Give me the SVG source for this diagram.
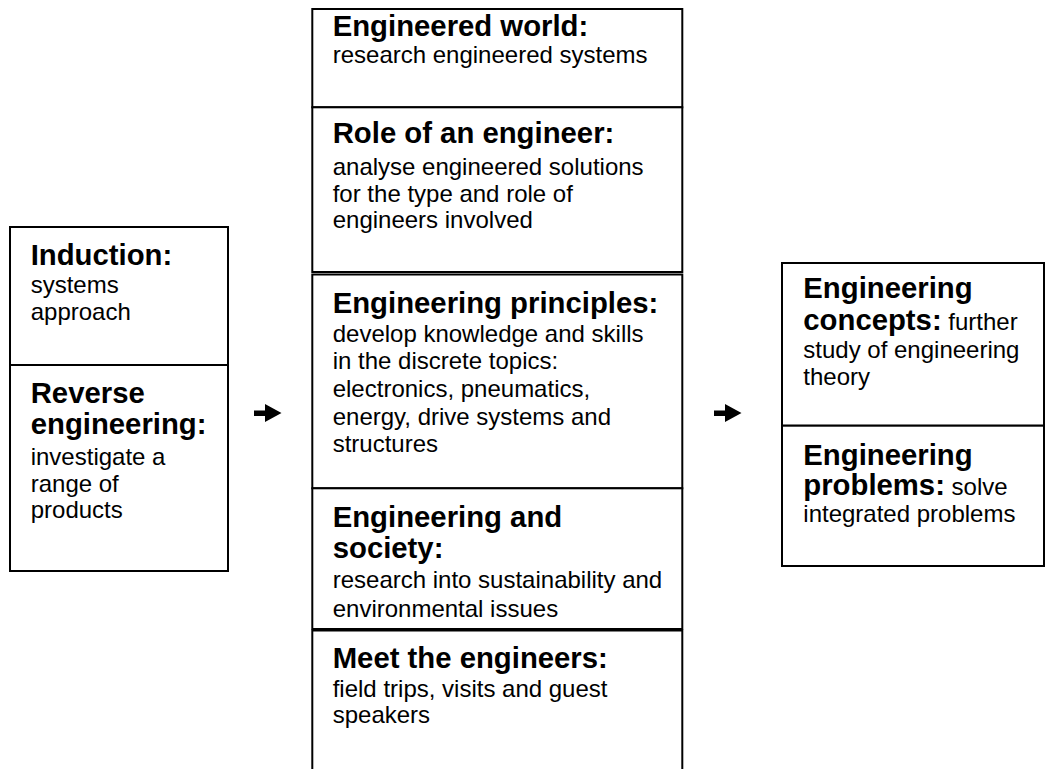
<svg xmlns="http://www.w3.org/2000/svg" width="1045" height="769" viewBox="0 0 1045 769">
<style>
.box{fill:#fff;stroke:#000;stroke-width:2}
.h{font-family:"Liberation Sans",Arial,sans-serif;font-weight:bold;font-size:29.3px;fill:#000}
.b{font-family:"Liberation Sans",Arial,sans-serif;font-size:24px;fill:#000}
.bt{font-weight:normal;font-size:24px}
.arr{fill:#000}
</style>
<rect width="1045" height="769" fill="#fff"/>
<g id="left">
<rect class="box" x="10" y="227" width="218" height="138"/>
<text class="h" x="30.7" y="265">Induction:</text>
<text class="b" x="30.7" y="293">systems</text>
<text class="b" x="30.7" y="320">approach</text>
<rect class="box" x="10" y="365" width="218" height="206"/>
<text class="h" x="30.7" y="402.7">Reverse</text>
<text class="h" x="30.7" y="433.5">engineering:</text>
<text class="b" x="30.7" y="465">investigate a</text>
<text class="b" x="30.7" y="491.7">range of</text>
<text class="b" x="30.7" y="518.3">products</text>
</g>
<g id="middle">
<g id="engineered-world">
<rect class="box" x="312.3" y="9" width="370" height="98.3"/>
<text class="h" x="332.7" y="36">Engineered world:</text>
<text class="b" x="332.7" y="63.3">research engineered systems</text>
</g>
<g id="role">
<rect class="box" x="312.3" y="107.3" width="370" height="164.7"/>
<text class="h" x="332.7" y="143.3">Role of an engineer:</text>
<text class="b" x="332.7" y="175">analyse engineered solutions</text>
<text class="b" x="332.7" y="201.7">for the type and role of</text>
<text class="b" x="332.7" y="228.3">engineers involved</text>
</g>
<g id="principles">
<rect class="box" x="312.3" y="274.5" width="370" height="213.8"/>
<text class="h" x="332.7" y="312.7">Engineering principles:</text>
<text class="b" x="332.7" y="341.7">develop knowledge and skills</text>
<text class="b" x="332.7" y="369.3">in the discrete topics:</text>
<text class="b" x="332.7" y="396.7">electronics, pneumatics,</text>
<text class="b" x="332.7" y="425">energy, drive systems and</text>
<text class="b" x="332.7" y="451.7">structures</text>
</g>
<g id="society">
<rect class="box" x="312.3" y="488.3" width="370" height="140.7"/>
<text class="h" x="332.7" y="526.7">Engineering and</text>
<text class="h" x="332.7" y="558.3">society:</text>
<text class="b" x="332.7" y="588.3">research into sustainability and</text>
<text class="b" x="332.7" y="616.7">environmental issues</text>
</g>
<g id="meet">
<rect class="box" x="312.3" y="630.5" width="370" height="150"/>
<text class="h" x="332.7" y="668.3">Meet the engineers:</text>
<text class="b" x="332.7" y="696.7">field trips, visits and guest</text>
<text class="b" x="332.7" y="723.3">speakers</text>
</g>
</g>
<g id="right">
<rect class="box" x="782" y="263" width="262" height="162.7"/>
<text class="h" x="803.3" y="298.3">Engineering</text>
<text class="h" x="803.3" y="330">concepts:<tspan class="bt"> further</tspan></text>
<text class="b" x="803.3" y="358.3">study of engineering</text>
<text class="b" x="803.3" y="385">theory</text>
<rect class="box" x="782" y="425.7" width="262" height="140.3"/>
<text class="h" x="803.3" y="465">Engineering</text>
<text class="h" x="803.3" y="495">problems:<tspan class="bt"> solve</tspan></text>
<text class="b" x="803.3" y="521.7">integrated problems</text>
</g>
<g id="connectors">
<path class="arr" d="M254,410.5 H265 V404 L281.5,413 L265,422 V416 H254 Z"/>
<path class="arr" d="M714,410.5 H725 V404 L741.5,413 L725,422 V416 H714 Z"/>
</g>
</svg>
